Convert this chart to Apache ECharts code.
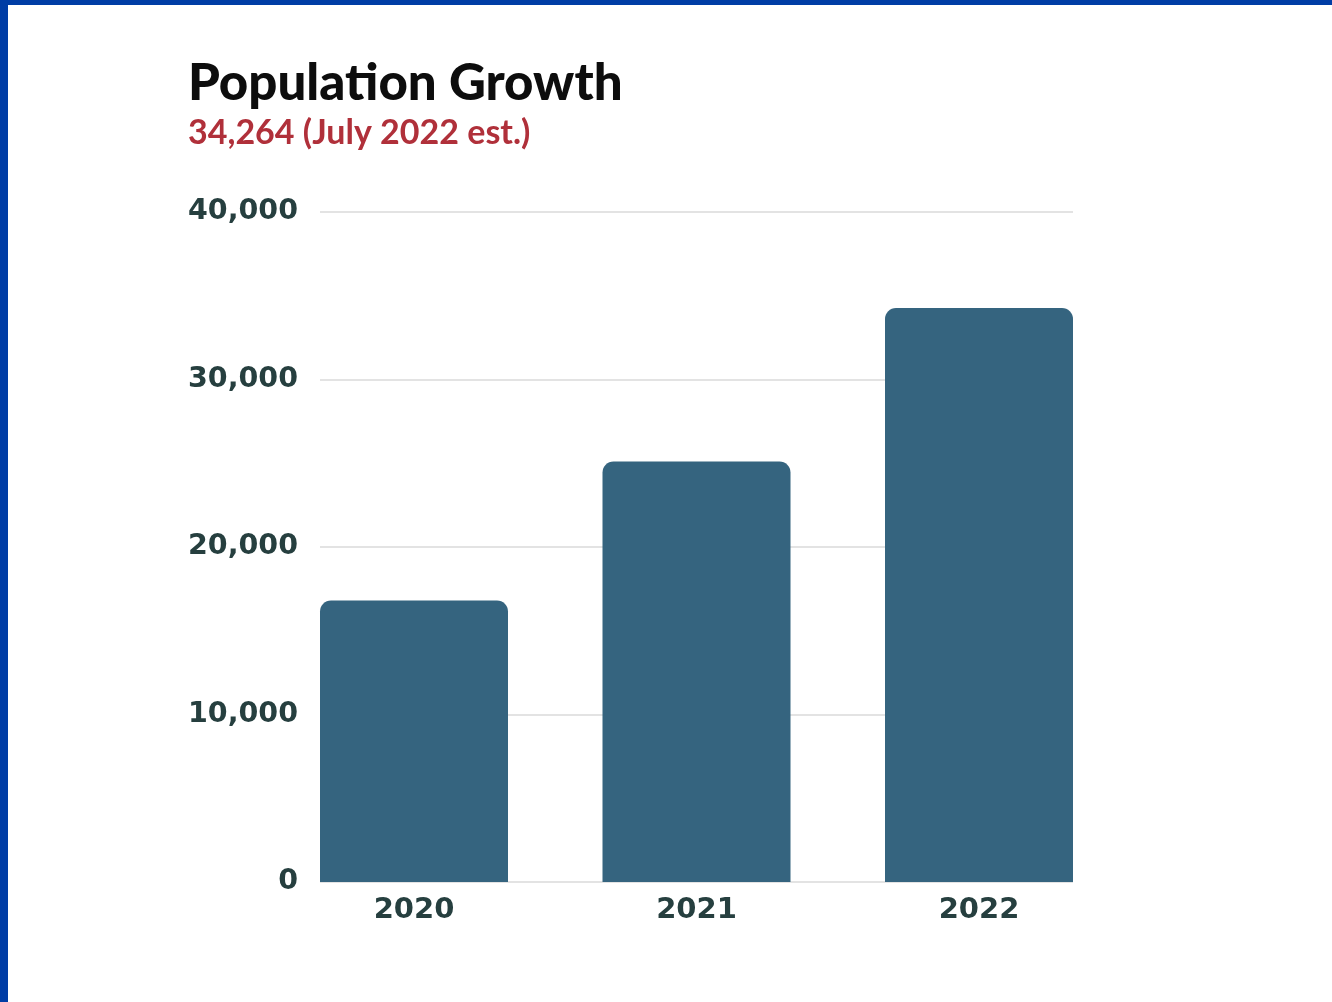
<!DOCTYPE html>
<html>
<head>
<meta charset="utf-8">
<script src="https://cdn.jsdelivr.net/npm/echarts@6/dist/echarts.min.js"></script>
<style>
html,body{margin:0;padding:0;background:#fff;}
#chart{width:1332px;height:1002px;}
</style>
</head>
<body>
<div id="chart"></div>
<script>
const categories = ['2020', '2021', '2022'];
const populationValues = [16800, 25100, 34264];
const yTicks = [0, 10000, 20000, 30000, 40000];
const titleText = 'Population Growth';
const subtitleText = '34,264 (July 2022 est.)';

const chart = echarts.init(document.getElementById('chart'), null, {renderer: 'canvas'});
const fontFam = 'Lato, "Noto Sans", sans-serif';
const axisFont = '"DejaVu Sans", sans-serif';
const labelColor = '#263f3f';

chart.setOption({
  backgroundColor: '#ffffff',
  animation: false,
  title: {
    text: titleText,
    subtext: subtitleText,
    left: 183,
    top: 53,
    itemGap: 7,
    textStyle: {fontFamily: fontFam, fontSize: 51, fontWeight: 900, color: '#0d0d0d'},
    subtextStyle: {fontFamily: fontFam, fontSize: 34, fontWeight: 'bold', color: '#b0303a'}
  },
  graphic: [
    {type: 'rect', left: 0, top: 0, shape: {width: 1332, height: 5}, style: {fill: '#003da5'}, z: 100},
    {type: 'rect', left: 0, top: 0, shape: {width: 8, height: 1002}, style: {fill: '#003da5'}, z: 100}
  ],
  grid: [
    {left: 320, top: 212, width: 753, height: 670},
    {left: 272.75, top: 212, width: 847.5, height: 670}
  ],
  xAxis: [
    {gridIndex: 0, type: 'value', min: 0, max: 1, show: false},
    {gridIndex: 1, type: 'category', data: categories,
     axisLine: {show: false}, axisTick: {show: false},
     axisLabel: {margin: 14, fontFamily: axisFont, fontSize: 29, fontWeight: 'bold', color: labelColor}}
  ],
  yAxis: [
    {gridIndex: 0, type: 'value', min: yTicks[0], max: yTicks[yTicks.length - 1], interval: 10000,
     axisLine: {show: false}, axisTick: {show: false},
     axisLabel: {margin: 22, fontFamily: axisFont, fontSize: 28.5, fontWeight: 'bold', color: labelColor,
       padding: [0, 0, 8, 0],
       formatter: v => v.toLocaleString('en-US')},
     splitLine: {lineStyle: {color: '#e3e3e3', width: 2}}},
    {gridIndex: 1, type: 'value', min: yTicks[0], max: yTicks[yTicks.length - 1], show: false,
     splitLine: {show: false}}
  ],
  series: [{
    type: 'bar',
    xAxisIndex: 1, yAxisIndex: 1,
    data: populationValues,
    barWidth: 188,
    itemStyle: {color: '#35647f', borderRadius: [11, 11, 0, 0]}
  }]
});
</script>
</body>
</html>
